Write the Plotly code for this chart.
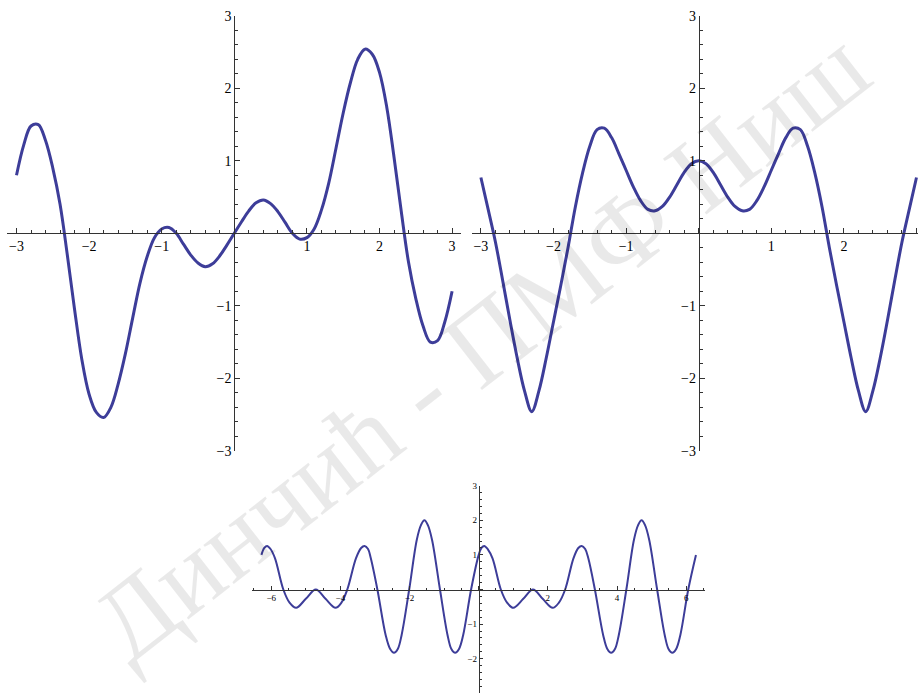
import plotly.graph_objects as go

# ---------------- data ----------------
# top-left curve (point-symmetric about the origin)
tl_x = [-3.0, -2.9, -2.8, -2.7, -2.6, -2.5, -2.4, -2.3, -2.2, -2.1, -2.0, -1.9, -1.8, -1.7, -1.6, -1.5,
        -1.4, -1.3, -1.2, -1.1, -1.0, -0.9, -0.8, -0.7, -0.6, -0.5, -0.4, -0.3, -0.2, -0.1,
        0.0, 0.1, 0.2, 0.3, 0.4, 0.5, 0.6, 0.7, 0.8, 0.9, 1.0, 1.1, 1.2, 1.3, 1.4, 1.5,
        1.6, 1.7, 1.8, 1.9, 2.0, 2.1, 2.2, 2.3, 2.4, 2.5, 2.6, 2.7, 2.8, 2.9, 3.0]
tl_y = [0.80, 1.22, 1.48, 1.50, 1.28, 0.90, 0.40, -0.30, -1.05, -1.74, -2.22, -2.47, -2.54, -2.40, -2.08, -1.66,
        -1.17, -0.69, -0.32, -0.06, 0.06, 0.08, 0.0, -0.15, -0.30, -0.41, -0.46, -0.42, -0.31, -0.16,
        0.0, 0.16, 0.31, 0.42, 0.46, 0.41, 0.30, 0.15, 0.0, -0.08, -0.06, 0.06, 0.32, 0.69, 1.17, 1.66,
        2.08, 2.40, 2.54, 2.47, 2.22, 1.74, 1.05, 0.30, -0.40, -0.90, -1.28, -1.50, -1.48, -1.22, -0.80]

# top-right curve (mirror-symmetric about the y axis)
tr_x = [-3.0, -2.9, -2.8, -2.7, -2.6, -2.5, -2.4, -2.3, -2.2, -2.1, -2.0, -1.9, -1.8, -1.7, -1.6, -1.5,
        -1.4, -1.3, -1.2, -1.1, -1.0, -0.9, -0.8, -0.7, -0.6, -0.5, -0.4, -0.3, -0.2, -0.1,
        0.0, 0.1, 0.2, 0.3, 0.4, 0.5, 0.6, 0.7, 0.8, 0.9, 1.0, 1.1, 1.2, 1.3, 1.4, 1.5,
        1.6, 1.7, 1.8, 1.9, 2.0, 2.1, 2.2, 2.3, 2.4, 2.5, 2.6, 2.7, 2.8, 2.9, 3.0]
tr_y = [0.77, 0.33, -0.12, -0.65, -1.20, -1.72, -2.17, -2.46, -2.17, -1.72, -1.22, -0.72, -0.20, 0.36, 0.83, 1.20,
        1.43, 1.45, 1.32, 1.10, 0.87, 0.64, 0.45, 0.33, 0.31, 0.37, 0.50, 0.67, 0.84, 0.96,
        1.00, 0.96, 0.84, 0.67, 0.50, 0.37, 0.31, 0.33, 0.45, 0.64, 0.87, 1.10, 1.32, 1.45, 1.43, 1.20,
        0.83, 0.36, -0.20, -0.72, -1.22, -1.72, -2.17, -2.46, -2.17, -1.72, -1.20, -0.65, -0.12, 0.33, 0.77]

# bottom curve
bt_x = [-6.283, -6.20, -6.12, -6.02, -5.89, -5.65, -5.47, -5.28, -5.00, -4.71, -4.43, -4.14, -3.97, -3.80,
        -3.55, -3.40, -3.30, -3.20, -3.12, -2.93, -2.69, -2.56, -2.45, -2.34, -2.23, -2.01, -1.79, -1.67,
        -1.57, -1.47, -1.35, -1.12, -0.90, -0.79, -0.68, -0.57, -0.45, -0.22,
        0.0, 0.08, 0.16, 0.26, 0.40, 0.64, 0.82, 1.00, 1.29, 1.57, 1.85, 2.14, 2.32, 2.50, 2.74, 2.88,
        2.98, 3.08, 3.17, 3.36, 3.60, 3.72, 3.83, 3.94, 4.05, 4.27, 4.49, 4.61, 4.71, 4.81, 4.93, 5.16,
        5.38, 5.49, 5.60, 5.71, 5.83, 6.06, 6.283]
bt_y = [1.00, 1.20, 1.26, 1.17, 0.90, 0.0, -0.38, -0.53, -0.27, 0.0, -0.27, -0.53, -0.38, 0.0,
        0.90, 1.20, 1.26, 1.17, 0.90, 0.0, -1.32, -1.72, -1.83, -1.72, -1.32, 0.0, 1.44, 1.86,
        2.00, 1.86, 1.44, 0.0, -1.32, -1.72, -1.83, -1.72, -1.32, 0.0,
        1.00, 1.20, 1.26, 1.17, 0.90, 0.0, -0.38, -0.53, -0.27, 0.0, -0.27, -0.53, -0.38, 0.0, 0.90, 1.20,
        1.26, 1.17, 0.90, 0.0, -1.32, -1.72, -1.83, -1.72, -1.32, 0.0, 1.44, 1.86, 2.00, 1.86, 1.44, 0.0,
        -1.32, -1.72, -1.83, -1.72, -1.32, 0.0, 1.00]

watermark_text = "Динчић - ПМФ Ниш"

# ---------------- layout helpers ----------------
W, H = 918, 697
LINE = "rgb(61,61,153)"
AX = "#333333"
FONT = "Liberation Serif"


def fx(px):
    return px / W


def fy(py):
    return 1 - py / H


def axis(rng, dom, pos, dtick, minor, size, tl, mtl, side):
    return dict(range=rng, domain=dom, anchor="free", position=pos, side=side,
                showgrid=False, zeroline=False, showline=True, linecolor=AX, linewidth=1,
                ticks="inside", ticklen=tl, tickwidth=1, tickcolor=AX,
                tickmode="linear", tick0=0, dtick=dtick, labelalias={"0": ""},
                minor=dict(ticks="inside", tickmode="linear", tick0=0, dtick=minor, ticklen=mtl,
                           tickcolor=AX, tickwidth=1, showgrid=False),
                tickfont=dict(family=FONT, size=size, color="black"),
                fixedrange=True, automargin=False)


fig = go.Figure()
fig.add_trace(go.Scatter(x=tl_x, y=tl_y, mode="lines", line=dict(color=LINE, width=3, shape="spline", smoothing=1.0),
                         xaxis="x", yaxis="y", hoverinfo="skip"))
fig.add_trace(go.Scatter(x=tr_x, y=tr_y, mode="lines", line=dict(color=LINE, width=3, shape="spline", smoothing=1.0),
                         xaxis="x2", yaxis="y2", hoverinfo="skip"))
fig.add_trace(go.Scatter(x=bt_x, y=bt_y, mode="lines", line=dict(color=LINE, width=2, shape="spline", smoothing=1.0),
                         xaxis="x3", yaxis="y3", hoverinfo="skip"))

s_top = 72.6
s_bot = 34.58

x0_tl, y0_tl = 234.3, 233.3
dom_x_tl = [fx(x0_tl - 3.125 * s_top), fx(x0_tl + 3.125 * s_top)]
dom_y_top = [fy(y0_tl + 3 * 72.5), fy(y0_tl - 3 * 72.5)]
x0_tr = 698.7
dom_x_tr = [fx(x0_tr - 3.125 * s_top), min(1.0, fx(x0_tr + 3.02 * s_top))]
x0_b, y0_b = 478.7, 589.5
dom_x_b = [fx(x0_b - 6.545 * s_bot), fx(x0_b + 6.545 * s_bot)]
dom_y_b = [fy(y0_b + 3 * 34.6), fy(y0_b - 3 * 34.6)]

fig.update_layout(
    width=W, height=H, margin=dict(l=0, r=0, t=0, b=0),
    paper_bgcolor="white", plot_bgcolor="rgba(0,0,0,0)", showlegend=False,
    xaxis=axis([-3.125, 3.125], dom_x_tl, fy(y0_tl), 1, 0.2, 14, 5, 3, "bottom"),
    yaxis=axis([-3, 3], dom_y_top, fx(x0_tl), 1, 0.2, 14, 5, 3, "left"),
    xaxis2=axis([-3.125, 3.02], dom_x_tr, fy(y0_tl), 1, 0.2, 14, 5, 3, "bottom"),
    yaxis2=axis([-3, 3], dom_y_top, fx(x0_tr), 1, 0.2, 14, 5, 3, "left"),
    xaxis3=axis([-6.545, 6.545], dom_x_b, fy(y0_b), 2, 0.5, 9, 3.5, 2, "bottom"),
    yaxis3=axis([-3, 3], dom_y_b, fx(x0_b), 1, 0.2, 9, 3.5, 2, "left"),
    annotations=[dict(text=watermark_text, xref="paper", yref="paper", x=fx(480), y=fy(346),
                      xanchor="center", yanchor="middle", showarrow=False, textangle=-38,
                      font=dict(family=FONT, size=108, color="rgba(0,0,0,0.085)"))],
)

fig.write_html("out.html", config={"displayModeBar": False, "staticPlot": True},
               post_script="document.body.style.margin='0';document.body.style.overflow='hidden';")
